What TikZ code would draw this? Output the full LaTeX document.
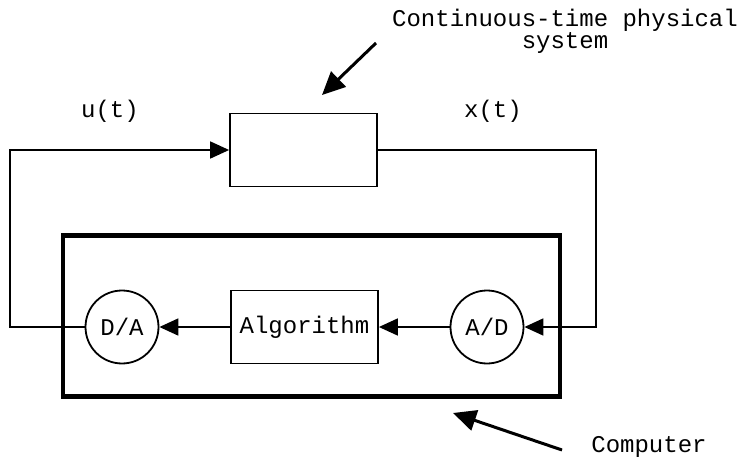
\documentclass[tikz,border=0pt]{standalone}
\usepackage{fontspec}
\setmonofont{Liberation Mono}
\usetikzlibrary{arrows.meta, positioning}

\tikzset{
  block/.style={draw, line width=1.8pt, minimum width=147pt, minimum height=73pt, inner sep=0pt},
  conv/.style={circle, draw, line width=1.8pt, minimum size=73pt, inner sep=0pt},
  flow/.style={line width=1.8pt, -{Triangle[length=19pt,width=17pt]}},
  pointer/.style={line width=3pt, -{Triangle[length=23pt,width=21pt]}}
}

\begin{document}
\begin{tikzpicture}[x=1pt, y=-1pt, font=\ttfamily\fontsize{24}{19}\selectfont]
\useasboundingbox (0,0) rectangle (737,460);
% plant, computer and its parts
\node[block] (sys) at (303.5,150) {};
\node[draw, line width=4.5pt, minimum width=497pt, minimum height=161pt] (comp) at (311.5,316) {};
\node[block] (alg) at (304.5,327) {Algorithm};
\node[conv] (da) at (122,327) {D/A};
\node[conv] (ad) at (487,327) {A/D};

% feedback loop
\coordinate (lft) at (10,327);
\coordinate (rgt) at (596,327);
\draw[flow] (da.west) -- (lft) |- (sys.west);
\draw[flow] (sys.east) -| (rgt) -- (ad.east);
\draw[flow] (alg.west) -- (da.east);
\draw[flow] (ad.west) -- (alg.east);

% signal names
\node (u) at (110,111) {u(t)};
\node (x) at (493,111) {x(t)};

% captions with pointers
\node[align=center] (plant) at (565,31) {Continuous-time physical\\system};
\node[anchor=base] (pc) at (649,452) {Computer};
\coordinate (ptop) at (376,43);
\coordinate (ptopend) at (322,95);
\draw[pointer] (ptop) -- (ptopend);
\coordinate (pbot) at (562,450);
\coordinate (pbotend) at (453,413);
\draw[pointer] (pbot) -- (pbotend);
\end{tikzpicture}
\end{document}
